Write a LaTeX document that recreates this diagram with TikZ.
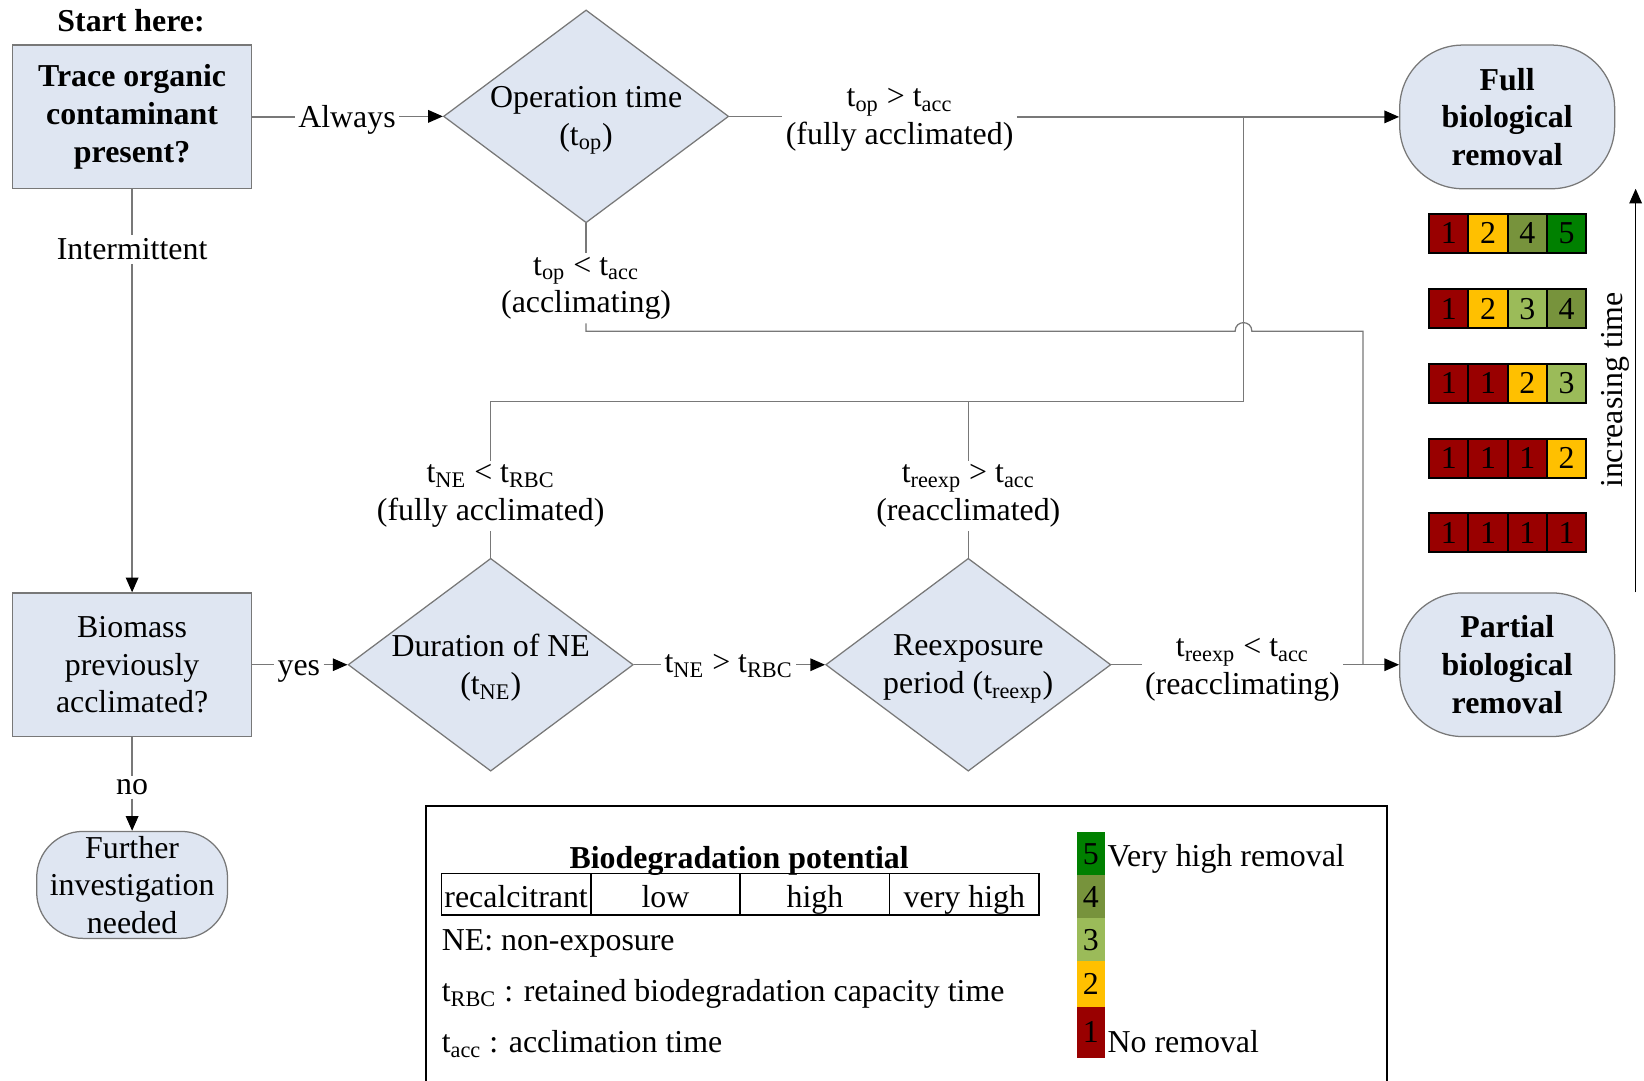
\documentclass[tikz,border=0pt]{standalone}
\usepackage{fontspec}
\setmainfont{Liberation Serif}
\usetikzlibrary{shapes.geometric,arrows.meta,calc}
\definecolor{boxfill}{RGB}{223,230,242}
\definecolor{linegray}{RGB}{120,120,120}
\definecolor{cRed}{RGB}{153,0,0}
\definecolor{cGold}{RGB}{255,192,0}
\definecolor{cLight}{RGB}{155,187,89}
\definecolor{cOlive}{RGB}{119,147,60}
\definecolor{cGreen}{RGB}{0,128,0}
\begin{document}
\begin{tikzpicture}[x=0.5pt,y=-0.5pt,
  font=\fontsize{15.2}{18}\selectfont,
  conn/.style={draw=linegray, line width=0.6pt},
  arr/.style={conn, -{Triangle[length=7pt,width=6pt,color=black]}},
  sq/.style={draw=linegray, line width=0.6pt, fill=boxfill, minimum width=114pt, minimum height=68.5pt, align=center, inner sep=0pt},
  dia/.style={diamond, draw=linegray, line width=0.6pt, fill=boxfill, minimum width=136pt, minimum height=101.5pt, inner sep=0pt},
  dtext/.style={align=center, inner sep=0pt},
  term/.style={draw=linegray, line width=0.6pt, fill=boxfill, rounded corners=30pt, minimum width=102.5pt, minimum height=68.5pt, align=center, inner sep=0pt},
  lab/.style={align=center, inner sep=1.5pt},
  cell/.style={draw=black, line width=0.9pt, minimum width=18.75pt, minimum height=18.5pt, inner sep=0pt},
  lcell/.style={minimum width=13.5pt, inner sep=0pt},
  tcell/.style={draw=black, line width=0.8pt, minimum width=71.25pt, minimum height=20pt, inner sep=0pt, text height=13.5pt, text depth=1pt},
]
\useasboundingbox (0,0) rectangle (1568,1031);

% ---------- main nodes ----------
\node[font=\fontsize{15.2}{18}\selectfont\bfseries] (start) at (125,20) {Start here:};
\node[sq, font=\fontsize{15.2}{18}\selectfont\bfseries] (b1) at (126,111.5) {Trace organic\\contaminant\\present?};
\node[dia] (d1) at (559,111) {};
\node[dtext] (d1t) at ($(d1)+(0,4)$) {Operation time\\(t\textsubscript{op})};
\node[term, font=\fontsize{15.2}{18}\selectfont\bfseries] (full) at (1437.5,111.5) {Full\\biological\\removal};

\node[sq] (b2) at (126,634) {Biomass\\previously\\acclimated?};
\node[dia] (d2) at (468,634) {};
\node[dtext] (d2t) at ($(d2)+(0,3)$) {Duration of NE\\(t\textsubscript{NE})};
\node[dia] (d3) at (923.5,634) {};
\node[dtext] (d3t) at ($(d3)+(0,4)$) {Reexposure\\period (t\textsubscript{reexp})};
\node[term, font=\fontsize{15.2}{18}\selectfont\bfseries] (partial) at (1437.5,634) {Partial\\biological\\removal};
\node[term, rounded corners=22pt, minimum width=91pt, minimum height=51pt] (further) at (126,844) {Further\\investigation\\needed};

% ---------- labels ----------
\node[lab] (lAlw) at (331,114) {Always};
\node[lab] (lTop) at (858,114.5) {t\textsubscript{op} > t\textsubscript{acc}\\(fully acclimated)};
\node[lab] (lAcc) at (559,275) {t\textsubscript{op} < t\textsubscript{acc}\\(acclimating)};
\node[lab] (lInt) at (126,238) {Intermittent};
\node[lab] (lYes) at (285,640) {yes};
\node[lab] (lNo) at (126,751) {no};
\node[lab] (lNE) at (468,473) {t\textsubscript{NE} < t\textsubscript{RBC}\\(fully acclimated)};
\node[lab] (lRe) at (923.5,473) {t\textsubscript{reexp} > t\textsubscript{acc}\\(reacclimated)};
\node[lab] (lNR) at (695,635) {t\textsubscript{NE} > t\textsubscript{RBC}};
\node[lab] (lRa) at (1185,639) {t\textsubscript{reexp} < t\textsubscript{acc}\\(reacclimating)};

% ---------- connectors ----------
\coordinate (j1) at (1186,383);
\coordinate (accY) at (559,316);
\coordinate (hopL) at (1178,316);
\coordinate (hopR) at (1194,316);
\coordinate (accR) at (1300,316);

\draw[conn] (b1.east) -- (b1.east -| lAlw.west);
\draw[arr] (lAlw.east |- d1.west) -- (d1.west);
\draw[conn] (d1.east) -- (d1.east -| lTop.west);
\draw[arr] (lTop.east |- full.west) -- (full.west);
\draw[conn] (d1.south) -- (lAcc.north);
\draw[conn] (lAcc.south) -- (accY) -- (hopL) .. controls ($(hopL)+(0,-11)$) and ($(hopR)+(0,-11)$) .. (hopR) -- (accR) -- (accR |- partial.west);
\draw[conn] (b1.south) -- (lInt.north);
\draw[arr] (lInt.south) -- (b2.north);
\draw[conn] (b2.east) -- (b2.east -| lYes.west);
\draw[arr] (lYes.east |- d2.west) -- (d2.west);
\draw[conn] (b2.south) -- (lNo.north);
\draw[arr] (lNo.south) -- (further.north);
\draw[conn] (d2.north) -- (lNE.south);
\draw[conn] (lNE.north) |- (j1) -- (j1 |- full.west);
\draw[conn] (d3.north) -- (lRe.south);
\draw[conn] (lRe.north) -- (lRe.north |- j1);
\draw[conn] (d2.east) -- (d2.east -| lNR.west);
\draw[arr] (lNR.east |- d3.west) -- (d3.west);
\draw[conn] (d3.east) -- (d3.east -| lRa.west);
\draw[arr] (lRa.east |- partial.west) -- (partial.west);

% ---------- colour bars ----------
\foreach \r/\yy/\ca/\na/\cb/\nb/\cc/\nc/\cd/\nd in {
  1/222.5/cRed/1/cGold/2/cOlive/4/cGreen/5,
  2/294.5/cRed/1/cGold/2/cLight/3/cOlive/4,
  3/365.5/cRed/1/cRed/1/cGold/2/cLight/3,
  4/437/cRed/1/cRed/1/cRed/1/cGold/2,
  5/508/cRed/1/cRed/1/cRed/1/cRed/1}{
  \node[cell, fill=\ca] (bar\r a) at (1381.75,\yy) {\na};
  \node[cell, fill=\cb] (bar\r b) at (1419.25,\yy) {\nb};
  \node[cell, fill=\cc] (bar\r c) at (1456.75,\yy) {\nc};
  \node[cell, fill=\cd] (bar\r d) at (1494.25,\yy) {\nd};
}
\coordinate (tBot) at (1560,565);
\coordinate (tTop) at (1560,180);
\draw[line width=0.6pt, -{Triangle[length=7pt,width=6pt]}] (tBot) -- (tTop);
\node[rotate=90] (incr) at (1541,372) {increasing time};

% ---------- legend ----------
\draw[line width=0.9pt] (406,1040) -- (406,769) -- (1323,769) -- (1323,1040);
\node[font=\fontsize{15.2}{18}\selectfont\bfseries] (ltitle) at (705,821) {Biodegradation potential};
\node[tcell] (t1) at (492.25,853) {recalcitrant};
\node[tcell] (t2) at (634.75,853) {low};
\node[tcell] (t3) at (777.25,853) {high};
\node[tcell] (t4) at (919.75,853) {very high};
\node[anchor=west, inner sep=0pt] (lg1) at (421,900) {NE: non-exposure};
\node[anchor=west, inner sep=0pt] (lg2) at (421,948) {t\textsubscript{RBC} : retained biodegradation capacity time};
\node[anchor=west, inner sep=0pt] (lg3) at (421,996) {t\textsubscript{acc} : acclimation time};

\node[lcell, fill=cGreen, minimum height=20.5pt] (c5) at (1040.5,814.5) {5};
\node[lcell, fill=cOlive, minimum height=20.5pt] (c4) at (1040.5,855.5) {4};
\node[lcell, fill=cLight, minimum height=20.5pt] (c3) at (1040.5,896.5) {3};
\node[lcell, fill=cGold, minimum height=21.5pt] (c2) at (1040.5,938.5) {2};
\node[lcell, fill=cRed, minimum height=24.5pt] (c1) at (1040.5,984.5) {1};
\node[anchor=west, inner sep=0pt] (vh) at (1056,819) {Very high removal};
\node[anchor=west, inner sep=0pt] (nr) at (1056,993) {No removal};
\end{tikzpicture}
\end{document}
